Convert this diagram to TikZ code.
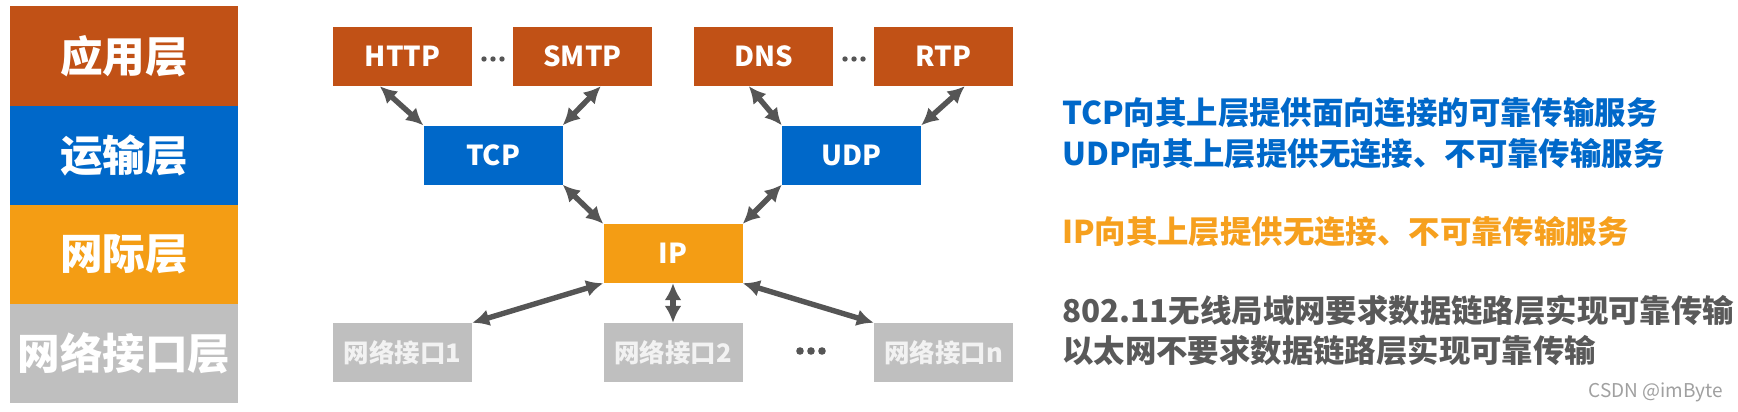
\documentclass[tikz,border=0pt]{standalone}
\usepackage{fontspec}
\setmainfont{Noto Sans CJK SC}
\usetikzlibrary{arrows.meta}
\definecolor{appc}{RGB}{193,81,22}
\definecolor{tcpc}{RGB}{0,104,201}
\definecolor{ipc}{RGB}{244,157,20}
\definecolor{ifg}{RGB}{191,191,191}
\definecolor{iftext}{RGB}{242,242,242}
\definecolor{arrg}{RGB}{85,85,85}
\definecolor{darktext}{RGB}{89,89,89}
\definecolor{orangetext}{RGB}{246,160,30}
\definecolor{wmark}{RGB}{160,160,160}
\begin{document}
\begin{tikzpicture}[x=1pt,y=-1pt,
  layerbox/.style={minimum width=228pt, minimum height=99pt, inner sep=0pt, text=white,
    font=\fontsize{42.6}{44}\selectfont\bfseries},
  pbox/.style={minimum width=139pt, minimum height=59pt, inner sep=0pt, text=white,
    font=\fontsize{27.5}{30}\selectfont\bfseries},
  ifbox/.style={pbox, fill=ifg, text=iftext, font=\fontsize{25.5}{28}\selectfont\bfseries},
  link/.style={draw=arrg, line width=5.4pt,
    {Latex[length=17pt,width=17pt]}-{Latex[length=17pt,width=17pt]}},
  note/.style={anchor=base west, inner sep=0pt, font=\fontsize{31.4}{34}\selectfont\bfseries},
  dotsmall/.style={fill=arrg},
]
\fill[white] (0,0) rectangle (1738,412);
\useasboundingbox (0,0) rectangle (1738,412);

% left layer stack
\node[layerbox, fill=appc] (L1) at (124,56) {应用层};
\node[layerbox, fill=tcpc] (L2) at (124,155) {运输层};
\node[layerbox, fill=ipc]  (L3) at (124,254) {网际层};
\node[layerbox, fill=ifg]  (L4) at (124,353) {网络接口层};

% protocol boxes
\node[pbox, fill=appc] (HTTP) at (402.5,56.5) {HTTP};
\node[pbox, fill=appc] (SMTP) at (582.5,56.5) {SMTP};
\node[pbox, fill=appc] (DNS)  at (763.5,56.5) {DNS};
\node[pbox, fill=appc] (RTP)  at (943.5,56.5) {RTP};
\node[pbox, fill=tcpc] (TCP)  at (493,155) {TCP};
\node[pbox, fill=tcpc] (UDP)  at (851.5,155) {UDP};
\node[pbox, fill=ipc]  (IP)   at (673,253.5) {IP};
\node[ifbox] (IF1) at (402.5,352.5) {网络接口1};
\node[ifbox] (IF2) at (673,352.5) {网络接口2};
\node[ifbox] (IFN) at (943.5,352.5) {网络接口n};

% ellipsis dots
\foreach \x in {484,493,502} \fill[dotsmall] (\x,59) circle (2.7);
\foreach \x in {845,854,863} \fill[dotsmall] (\x,59) circle (2.7);
\foreach \x in {800,811,822} \fill[dotsmall] (\x,351) circle (3.8);

% connectors
\draw[link] ([xshift=47pt]HTTP.south west) -- (TCP.north west);
\draw[link] ([xshift=88pt]SMTP.south west) -- (TCP.north east);
\draw[link] ([xshift=55pt]DNS.south west) -- (UDP.north west);
\draw[link] ([xshift=91pt]RTP.south west) -- (UDP.north east);
\draw[link] (TCP.south east) -- (IP.north west);
\draw[link] (UDP.south west) -- (IP.north east);
\draw[link] (IP.south west) -- (IF1.north east);
\draw[link] (IP.south) -- (IF2.north);
\draw[link] (IP.south east) -- (IFN.north west);

% notes
\node[note, text=tcpc] (n1) at (1062,124) {TCP向其上层提供面向连接的可靠传输服务};
\node[note, text=tcpc] (n2) at (1062,165) {UDP向其上层提供无连接、不可靠传输服务};
\node[note, text=orangetext] (n3) at (1062,243) {IP向其上层提供无连接、不可靠传输服务};
\node[note, text=darktext] (n4) at (1062,322) {802.11无线局域网要求数据链路层实现可靠传输};
\node[note, text=darktext] (n5) at (1062,362) {以太网不要求数据链路层实现可靠传输};

\node[anchor=base east, inner sep=0pt, text=wmark, font=\fontsize{19}{21}\selectfont] (wm) at (1723,397) {CSDN @imByte};
\end{tikzpicture}
\end{document}
